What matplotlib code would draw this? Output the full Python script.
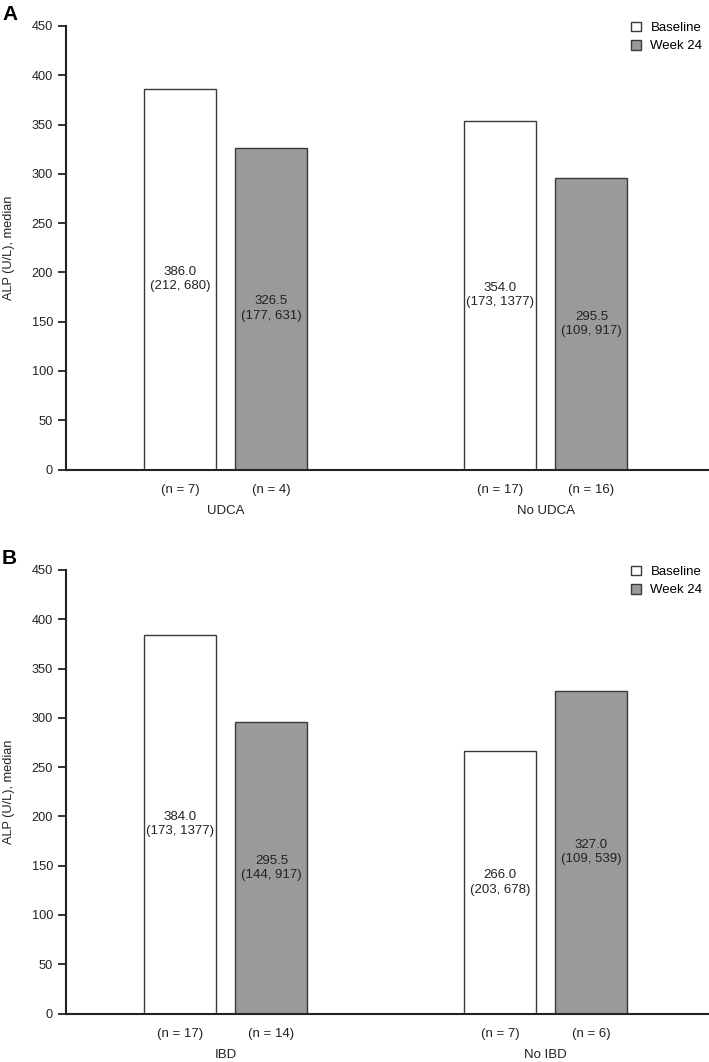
import matplotlib
matplotlib.use("Agg")
import matplotlib.pyplot as plt
from matplotlib.patches import Patch

plt.rcParams['font.family'] = ['Liberation Sans', 'DejaVu Sans']

# Data
panel_letters = ["A", "B"]
groups_A = ["UDCA", "No UDCA"]
baseline_A = [386.0, 354.0]
week24_A = [326.5, 295.5]
baseline_ci_A = ["(212, 680)", "(173, 1377)"]
week24_ci_A = ["(177, 631)", "(109, 917)"]
baseline_n_A = [7, 17]
week24_n_A = [4, 16]

groups_B = ["IBD", "No IBD"]
baseline_B = [384.0, 266.0]
week24_B = [295.5, 327.0]
baseline_ci_B = ["(173, 1377)", "(203, 678)"]
week24_ci_B = ["(144, 917)", "(109, 539)"]
baseline_n_B = [17, 7]
week24_n_B = [14, 6]

series_names = ["Baseline", "Week 24"]
yticks = [0, 50, 100, 150, 200, 250, 300, 350, 400, 450]

W, H = 709, 1062
fig = plt.figure(figsize=(W / 100, H / 100), dpi=100)

edge = "#3a3a3a"
grey = "#9a9a9a"
fs = 9.2
fs_txt = 9.55

def panel(bottom_px, top_px, letter, groups, base, wk, bci, wci, bn, wn):
    left = 65.5 / W
    ax = fig.add_axes([left, 1 - bottom_px / H, 1 - left, (bottom_px - top_px) / H])
    off = 0.1425
    width = 0.225
    xs = list(range(len(groups)))
    xb = [x - off for x in xs]
    xw = [x + off for x in xs]
    ax.bar(xb, base, width=width, color="white", edgecolor=edge, linewidth=1.0, zorder=2)
    ax.bar(xw, wk, width=width, color=grey, edgecolor=edge, linewidth=1.0, zorder=2)
    for x, v, ci in zip(xb, base, bci):
        ax.text(x, v / 2, f"{v:.1f}\n{ci}", ha="center", va="center", fontsize=fs_txt,
                linespacing=1.25, color="#222222")
    for x, v, ci in zip(xw, wk, wci):
        ax.text(x, v / 2, f"{v:.1f}\n{ci}", ha="center", va="center", fontsize=fs_txt,
                linespacing=1.25, color="#222222")
    ax.set_xlim(-0.501, 1.51)
    ax.set_ylim(0, 450)
    ax.set_yticks(yticks)
    ax.tick_params(axis="y", length=6, width=1.3, labelsize=fs, pad=3, colors="#222222")
    ax.tick_params(axis="x", length=0, labelbottom=False)
    for s in ["top", "right"]:
        ax.spines[s].set_visible(False)
    for s in ["left", "bottom"]:
        ax.spines[s].set_linewidth(1.5)
        ax.spines[s].set_color("#222222")
    ax.set_ylabel("ALP (U/L), median", fontsize=fs, color="#222222")
    ax.yaxis.set_label_coords(-(65.5 - 15.5) / (W - 65.5), 0.5)
    trans = ax.get_xaxis_transform()
    dy_n = 20 / (bottom_px - top_px)
    dy_g = 42 / (bottom_px - top_px)
    for x, n in zip(xb, bn):
        ax.text(x, -dy_n, f"(n = {n})", transform=trans, ha="center", va="center",
                fontsize=fs_txt, color="#222222")
    for x, n in zip(xw, wn):
        ax.text(x, -dy_n, f"(n = {n})", transform=trans, ha="center", va="center",
                fontsize=fs_txt, color="#222222")
    for x, g in zip(xs, groups):
        ax.text(x, -dy_g, g, transform=trans, ha="center", va="center",
                fontsize=fs_txt, color="#222222")
    handles = [Patch(facecolor="white", edgecolor=edge, linewidth=1.0),
               Patch(facecolor=grey, edgecolor=edge, linewidth=1.0)]
    ax.legend(handles, series_names, loc="upper right", frameon=False,
              bbox_to_anchor=(1.0, 1.025), handlelength=0.75, handleheight=0.75,
              handletextpad=0.75, labelspacing=0.45, fontsize=9.5, borderaxespad=0.1)
    fig.text(2 / W, 1 - (top_px - 11) / H, letter, fontsize=15, fontweight="bold",
             ha="left", va="center")
    return ax

panel(469.5, 26, panel_letters[0], groups_A, baseline_A, week24_A, baseline_ci_A,
      week24_ci_A, baseline_n_A, week24_n_A)
panel(1013.5, 570, panel_letters[1], groups_B, baseline_B, week24_B, baseline_ci_B,
      week24_ci_B, baseline_n_B, week24_n_B)

fig.savefig("out.png", dpi=100)
